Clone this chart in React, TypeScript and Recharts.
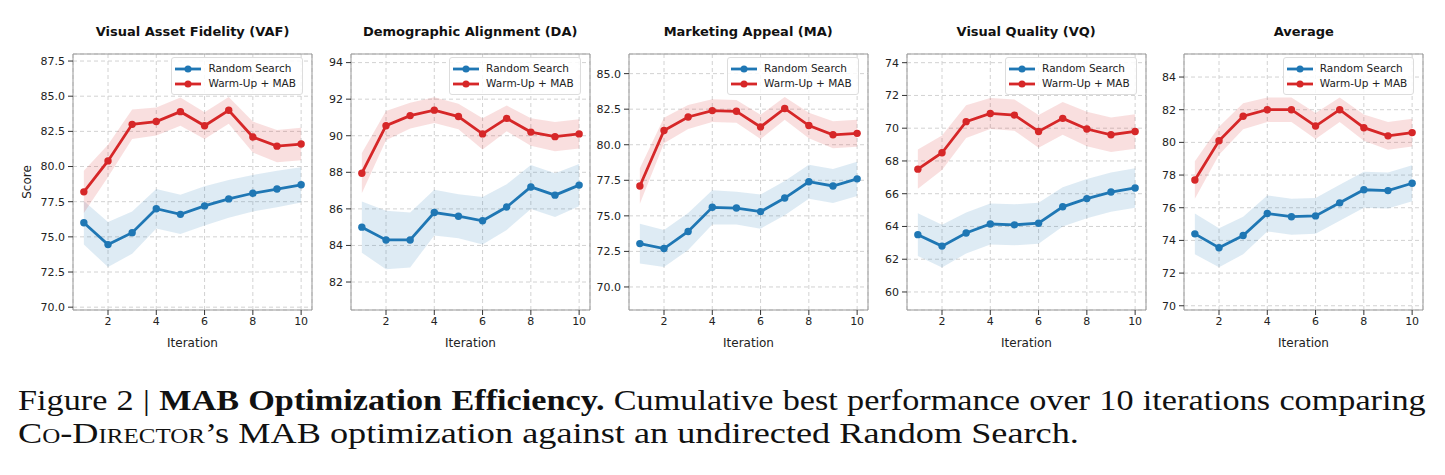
import React from 'react';
import {
  ComposedChart,
  Line,
  Area,
  XAxis,
  YAxis,
  CartesianGrid,
  Legend,
  ReferenceArea,
} from 'recharts';

const iterations = [1, 2, 3, 4, 5, 6, 7, 8, 9, 10];
const xTicks = [2, 4, 6, 8, 10];

// Visual Asset Fidelity
const vafRandom = [76.0, 74.45, 75.3, 77.0, 76.6, 77.2, 77.7, 78.1, 78.4, 78.7];
const vafRandomBand = [1.55, 1.6, 1.5, 1.4, 1.4, 1.4, 1.35, 1.3, 1.3, 1.25];
const vafMab = [78.2, 80.4, 83.0, 83.2, 83.9, 82.9, 84.0, 82.1, 81.45, 81.6];
const vafMabBand = [1.5, 1.15, 1.05, 1.0, 1.0, 0.95, 0.95, 1.1, 1.15, 1.15];
const vafTicks = [70, 72.5, 75, 77.5, 80, 82.5, 85, 87.5];

// Demographic Alignment
const daRandom = [85.0, 84.3, 84.3, 85.8, 85.6, 85.35, 86.1, 87.2, 86.75, 87.3];
const daRandomBand = [1.4, 1.6, 1.5, 1.25, 1.2, 1.3, 1.25, 1.2, 1.2, 1.15];
const daMab = [87.95, 90.55, 91.1, 91.4, 91.05, 90.1, 90.95, 90.2, 89.95, 90.1];
const daMabBand = [1.1, 0.8, 0.7, 0.7, 0.7, 0.85, 0.7, 0.75, 0.8, 0.8];
const daTicks = [82, 84, 86, 88, 90, 92, 94];

// Marketing Appeal
const maRandom = [73.05, 72.7, 73.9, 75.6, 75.55, 75.3, 76.25, 77.4, 77.1, 77.6];
const maRandomBand = [1.4, 1.3, 1.3, 1.2, 1.15, 1.2, 1.2, 1.2, 1.2, 1.2];
const maMab = [77.1, 81.0, 81.95, 82.4, 82.35, 81.25, 82.55, 81.35, 80.7, 80.8];
const maMabBand = [1.25, 0.9, 0.85, 0.8, 0.8, 0.85, 0.8, 0.9, 0.95, 0.95];
const maTicks = [70, 72.5, 75, 77.5, 80, 82.5, 85];

// Visual Quality
const vqRandom = [63.5, 62.8, 63.6, 64.15, 64.1, 64.2, 65.2, 65.7, 66.1, 66.35];
const vqRandomBand = [1.3, 1.3, 1.25, 1.25, 1.25, 1.25, 1.2, 1.2, 1.2, 1.2];
const vqMab = [67.5, 68.5, 70.4, 70.9, 70.8, 69.8, 70.6, 69.95, 69.6, 69.8];
const vqMabBand = [1.2, 1.05, 1.0, 0.95, 0.95, 1.0, 1.0, 1.05, 1.05, 1.05];
const vqTicks = [60, 62, 64, 66, 68, 70, 72, 74];

// Average
const avgRandom = [74.4, 73.55, 74.3, 75.65, 75.45, 75.5, 76.3, 77.1, 77.05, 77.5];
const avgRandomBand = [1.25, 1.2, 1.15, 1.1, 1.1, 1.1, 1.1, 1.1, 1.1, 1.1];
const avgMab = [77.7, 80.1, 81.6, 82.0, 82.0, 81.0, 82.0, 80.9, 80.4, 80.6];
const avgMabBand = [1.15, 0.85, 0.8, 0.75, 0.75, 0.8, 0.75, 0.8, 0.85, 0.85];
const avgTicks = [70, 72, 74, 76, 78, 80, 82, 84];

const BLUE = '#1f77b4';
const RED = '#d62728';
const FONT = '"DejaVu Sans", sans-serif';
const X_DOMAIN: [number, number] = [0.55, 10.45];

const panels = [
  { title: 'Visual Asset Fidelity (VAF)', random: vafRandom, randomBand: vafRandomBand, mab: vafMab, mabBand: vafMabBand, ticks: vafTicks, domain: [69.8, 88.0], decimals: 1, left: 73 },
  { title: 'Demographic Alignment (DA)', random: daRandom, randomBand: daRandomBand, mab: daMab, mabBand: daMabBand, ticks: daTicks, domain: [80.47, 94.47], decimals: 0, left: 350.7 },
  { title: 'Marketing Appeal (MA)', random: maRandom, randomBand: maRandomBand, mab: maMab, mabBand: maMabBand, ticks: maTicks, domain: [68.38, 86.38], decimals: 1, left: 628.7 },
  { title: 'Visual Quality (VQ)', random: vqRandom, randomBand: vqRandomBand, mab: vqMab, mabBand: vqMabBand, ticks: vqTicks, domain: [58.9, 74.53], decimals: 0, left: 906.7 },
  { title: 'Average', random: avgRandom, randomBand: avgRandomBand, mab: avgMab, mabBand: avgMabBand, ticks: avgTicks, domain: [69.74, 85.41], decimals: 0, left: 1184.3 },
];

const PLOT_W = 239;
const PLOT_H = 256;
const PLOT_TOP = 54;
const Y_AXIS_W = 50;
const X_AXIS_H = 50;
const M_TOP = 10;
const M_RIGHT = 10;

const LegendBox = () => (
  <div
    style={{
      background: 'rgba(255,255,255,0.85)',
      border: '1px solid #dddddd',
      borderRadius: 3,
      padding: '3px 6px 3px 3px',
      fontFamily: FONT,
      fontSize: 10.5,
      color: '#222',
      lineHeight: '15px',
    }}
  >
    {[
      { label: 'Random Search', color: BLUE },
      { label: 'Warm-Up + MAB', color: RED },
    ].map((e) => (
      <div key={e.label} style={{ display: 'flex', alignItems: 'center', height: 15 }}>
        <svg width={26} height={10} style={{ marginRight: 7 }}>
          <line x1={0} y1={5} x2={26} y2={5} stroke={e.color} strokeWidth={2.8} />
          <circle cx={13} cy={5} r={3.5} fill={e.color} />
        </svg>
        <span style={{ whiteSpace: 'nowrap' }}>{e.label}</span>
      </div>
    ))}
  </div>
);

const Panel = ({ p }: { p: (typeof panels)[number] }) => {
  const data = iterations.map((x, i) => ({
    x,
    rs: p.random[i],
    rsRange: [p.random[i] - p.randomBand[i], p.random[i] + p.randomBand[i]],
    mab: p.mab[i],
    mabRange: [p.mab[i] - p.mabBand[i], p.mab[i] + p.mabBand[i]],
  }));
  const tickStyle = { fontSize: 11, fill: '#222', fontFamily: FONT };
  return (
    <div style={{ position: 'absolute', left: p.left - Y_AXIS_W, top: PLOT_TOP - M_TOP }}>
      <ComposedChart
        width={Y_AXIS_W + PLOT_W + M_RIGHT}
        height={M_TOP + PLOT_H + X_AXIS_H}
        data={data}
        margin={{ top: M_TOP, right: M_RIGHT, bottom: 0, left: 0 }}
      >
        <CartesianGrid stroke="#d2d2d2" strokeDasharray="4 3" />
        <XAxis
          dataKey="x"
          type="number"
          domain={X_DOMAIN}
          ticks={xTicks}
          height={X_AXIS_H}
          axisLine={false}
          tickSize={5}
          tickMargin={2}
          tickLine={{ stroke: '#333' }}
          tick={tickStyle}
          label={{ value: 'Iteration', position: 'insideBottom', offset: 13, fontSize: 12, fill: '#222', fontFamily: FONT }}
        />
        <YAxis
          type="number"
          domain={p.domain}
          ticks={p.ticks}
          width={Y_AXIS_W}
          axisLine={false}
          tickSize={5}
          tickMargin={3}
          tickLine={{ stroke: '#333' }}
          tick={tickStyle}
          tickFormatter={(v: number) => v.toFixed(p.decimals)}
          allowDataOverflow
        />
        <Area dataKey="rsRange" type="linear" stroke="none" fill={BLUE} fillOpacity={0.15} isAnimationActive={false} legendType="none" />
        <Area dataKey="mabRange" type="linear" stroke="none" fill={RED} fillOpacity={0.15} isAnimationActive={false} legendType="none" />
        <Line dataKey="rs" name="Random Search" type="linear" stroke={BLUE} strokeWidth={2.8} dot={{ r: 3.7, fill: BLUE, stroke: BLUE, strokeWidth: 0 }} isAnimationActive={false} />
        <Line dataKey="mab" name="Warm-Up + MAB" type="linear" stroke={RED} strokeWidth={2.8} dot={{ r: 3.7, fill: RED, stroke: RED, strokeWidth: 0 }} isAnimationActive={false} />
        <ReferenceArea x1={X_DOMAIN[0]} x2={X_DOMAIN[1]} y1={p.domain[0]} y2={p.domain[1]} fill="none" stroke="#999" strokeWidth={1} ifOverflow="visible" />
        <Legend
          layout="horizontal"
          verticalAlign="middle"
          align="center"
          content={() => <LegendBox />}
          wrapperStyle={{ top: 13, right: 19, left: 'auto', width: 'auto' }}
        />
      </ComposedChart>
    </div>
  );
};

const captionStyle: React.CSSProperties = {
  position: 'absolute',
  left: 18,
  fontFamily: '"Liberation Serif", serif',
  fontSize: 29,
  lineHeight: '33px',
  color: '#111',
  transformOrigin: 'left top',
  whiteSpace: 'nowrap',
};

export default function App() {
  return (
    <div style={{ position: 'absolute', left: 0, top: 0, width: 1445, height: 475, background: '#fff', fontFamily: FONT }}>
      {panels.map((p) => (
        <React.Fragment key={p.title}>
          <div
            style={{
              position: 'absolute',
              left: p.left,
              width: PLOT_W,
              top: 24,
              textAlign: 'center',
              fontWeight: 'bold',
              fontSize: 13,
              color: '#111',
              whiteSpace: 'nowrap',
            }}
          >
            {p.title}
          </div>
          <Panel p={p} />
        </React.Fragment>
      ))}
      <div
        style={{
          position: 'absolute',
          left: 26.5,
          top: PLOT_TOP + PLOT_H / 2,
          transform: 'translate(-50%, -50%) rotate(-90deg)',
          fontSize: 12,
          color: '#222',
        }}
      >
        Score
      </div>
      <div
        style={{
          ...captionStyle,
          top: 384,
          width: 1193,
          transform: 'scaleX(1.18)',
          textAlign: 'justify',
          textAlignLast: 'justify',
        }}
      >
        Figure 2 | <b>MAB Optimization Efficiency.</b> Cumulative best performance over 10 iterations comparing
      </div>
      <div style={{ ...captionStyle, top: 417, transform: 'scaleX(1.25)' }}>
        <span style={{ fontVariant: 'small-caps' }}>Co-Director</span>’s MAB optimization against an undirected Random Search.
      </div>
    </div>
  );
}
